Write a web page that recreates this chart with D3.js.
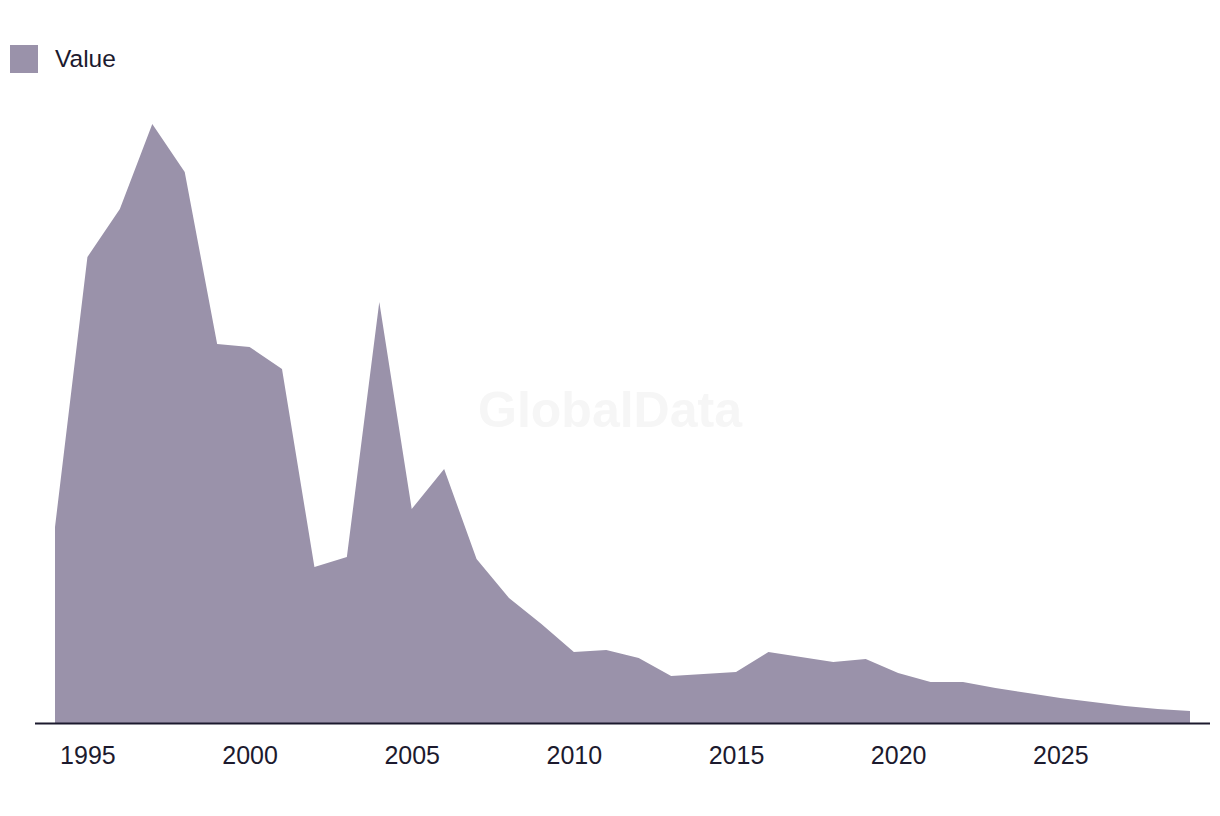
<!DOCTYPE html>
<html>
<head>
<meta charset="utf-8">
<script src="https://cdn.jsdelivr.net/npm/d3@7"></script>
<style>
  html, body { margin: 0; padding: 0; background: #ffffff; }
  svg { display: block; }
  text { font-family: "Liberation Sans", Arial, sans-serif; }
</style>
</head>
<body>
<svg id="chart" width="1220" height="816"></svg>
<script>
const years = [1994,1995,1996,1997,1998,1999,2000,2001,2002,2003,2004,2005,2006,2007,2008,2009,2010,2011,2012,2013,2014,2015,2016,2017,2018,2019,2020,2021,2022,2023,2024,2025,2026,2027,2028,2029];
const values = [196,466,514,599,551,379,376,354,156,166,421,214,254,164,125,99,71,73,65,47,49,51,71,66,61,64,50,41,41,35,30,25,21,17,14,12];
const tickYears = [1995,2000,2005,2010,2015,2020,2025];
const seriesName = "Value";

const fill = "#9a92aa";
const ink = "#1c1a2e";

const svg = d3.select("#chart");
const x = d3.scaleLinear().domain([1994, 2029]).range([55, 1190]);
const y = d3.scaleLinear().domain([0, 600]).range([723, 123]);

// watermark
svg.append("text")
  .attr("x", 610).attr("y", 427)
  .attr("text-anchor", "middle")
  .attr("font-size", 50).attr("font-weight", "bold")
  .attr("fill", "#f6f6f6")
  .text("GlobalData");

const data = years.map((yr, i) => ({yr, v: values[i]}));
const area = d3.area().x(d => x(d.yr)).y0(y(0)).y1(d => y(d.v));
svg.append("path").datum(data).attr("d", area).attr("fill", fill);

// axis
const axis = d3.axisBottom(x).tickValues(tickYears).tickFormat(d3.format("d")).tickSize(0).tickPadding(23);
const g = svg.append("g").attr("transform", `translate(0,${y(0)})`).call(axis);
g.select(".domain").remove();
g.selectAll("text").attr("font-size", 25).attr("fill", ink)
  .style("font-family", "'Liberation Sans', Arial, sans-serif");
svg.append("line").attr("x1", 35).attr("x2", 1210).attr("y1", y(0)+0.5).attr("y2", y(0)+0.5)
  .attr("stroke", ink).attr("stroke-width", 2);

// legend
svg.append("rect").attr("x", 10).attr("y", 45).attr("width", 28).attr("height", 28).attr("fill", fill);
svg.append("text").attr("x", 55).attr("y", 67).attr("font-size", 24.5).attr("fill", ink).text(seriesName);
</script>
</body>
</html>
